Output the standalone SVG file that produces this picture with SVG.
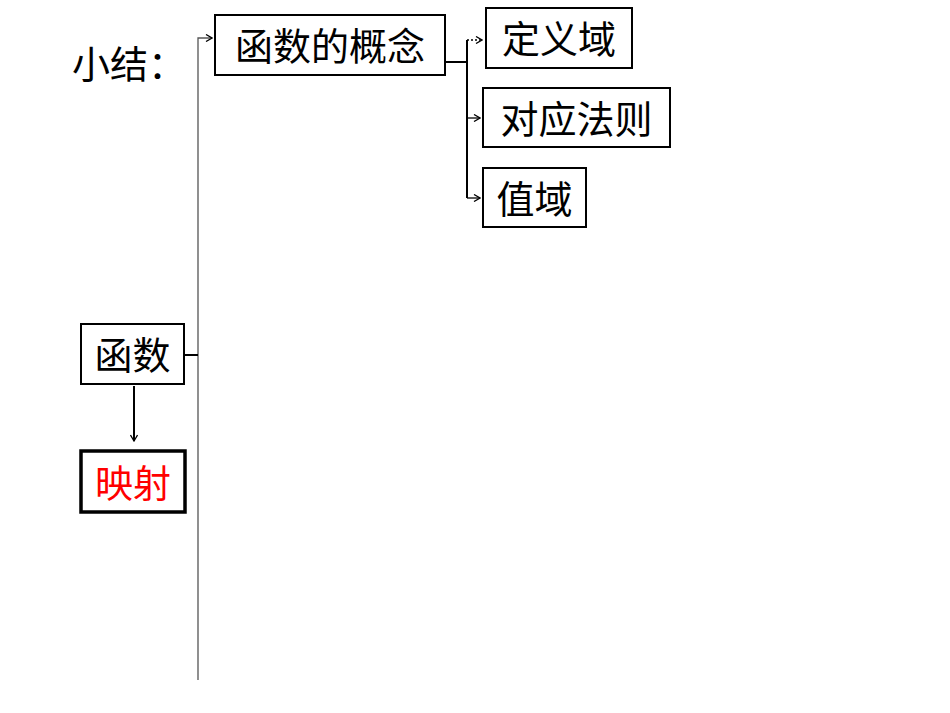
<svg xmlns="http://www.w3.org/2000/svg" width="950" height="713" viewBox="0 0 950 713">
<style>
.b{fill:#fff;stroke:#000;stroke-width:2}
.t{font-family:"Liberation Serif","Noto Sans CJK SC",serif;font-size:38px;fill:#000}
.c{fill:none;stroke:#000;stroke-width:2}
</style>
<defs><marker id="a" markerWidth="8" markerHeight="8" refX="7" refY="4" orient="auto" markerUnits="userSpaceOnUse"><path d="M1,0.5 L7,4 L1,7.5" fill="none" stroke="#000" stroke-width="1.3"/></marker></defs>
<rect width="950" height="713" fill="#fff"/>
<text class="t" x="72" y="78">小结：</text>
<g id="connectors">
<path d="M198,680 V38 H212" fill="none" stroke="#555" stroke-width="1.3" marker-end="url(#a)"/>
<path class="c" d="M185,355 H198"/>
<path class="c" d="M445,62 H467"/>
<path class="c" d="M467,198 V40"/>
<path d="M467,40 H482" fill="none" stroke="#000" stroke-width="1.3" stroke-dasharray="2,2" marker-end="url(#a)"/>
<path d="M467,118 H480" fill="none" stroke="#000" stroke-width="1.3" marker-end="url(#a)"/>
<path d="M467,198 H480" fill="none" stroke="#000" stroke-width="1.3" marker-end="url(#a)"/>
<path class="c" d="M134,386 V441" marker-end="url(#a)"/>
</g>
<g id="hanshu"><rect class="b" x="81" y="324" width="103" height="60"/><text class="t" x="132.5" y="369" text-anchor="middle">函数</text></g>
<g id="yingshe"><rect x="81" y="451" width="104" height="61" fill="#fff" stroke="#000" stroke-width="3.5"/><text class="t" x="133" y="497" text-anchor="middle" fill="#f00" style="fill:#f00">映射</text></g>
<g id="gainian"><rect class="b" x="215" y="15" width="230" height="60"/><text class="t" x="330" y="60" text-anchor="middle">函数的概念</text></g>
<g id="dingyiyu"><rect class="b" x="486" y="8" width="146" height="60"/><text class="t" x="559" y="53" text-anchor="middle">定义域</text></g>
<g id="duiying"><rect class="b" x="483" y="88" width="187" height="59"/><text class="t" x="576.5" y="133" text-anchor="middle">对应法则</text></g>
<g id="zhiyu"><rect class="b" x="483" y="168" width="103" height="59"/><text class="t" x="534.5" y="213" text-anchor="middle">值域</text></g>
</svg>
